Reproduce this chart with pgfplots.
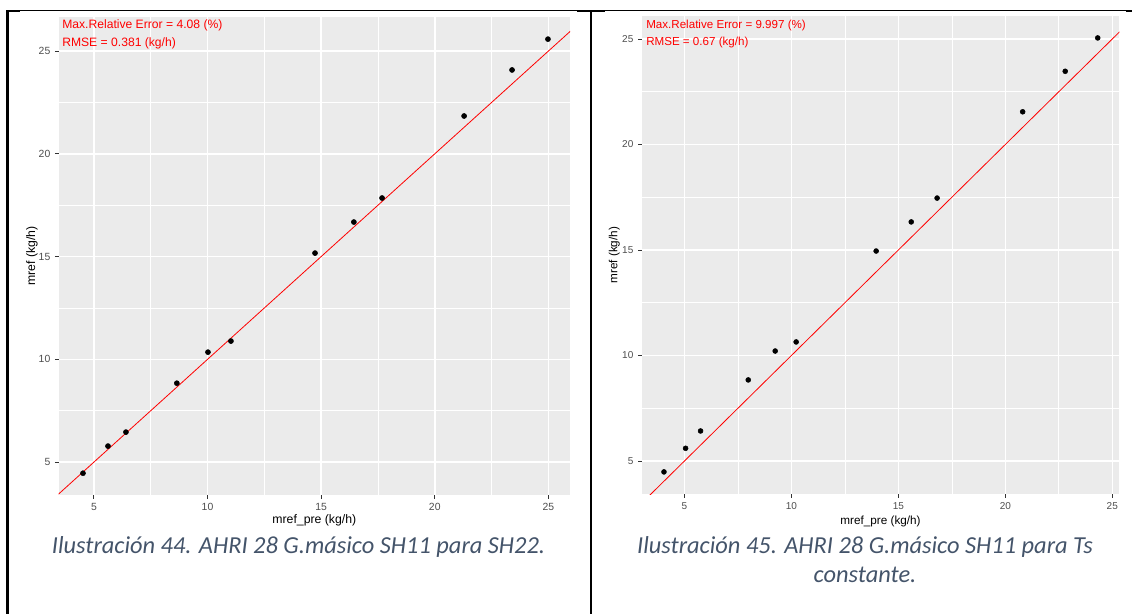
\documentclass[border=0pt]{standalone}
\usepackage{pgfplots}
\pgfplotsset{compat=1.18}
\usepackage{fontspec}
\setmainfont{Liberation Sans}
\newfontfamily\capfont{Carlito}
\definecolor{PanelBg}{HTML}{EBEBEB}
\definecolor{TickGrey}{HTML}{4D4D4D}
\definecolor{TickMark}{HTML}{333333}
\definecolor{CapBlue}{HTML}{44546A}

\pgfplotstableread{
x y
4.52 4.46
5.62 5.78
6.41 6.46
8.65 8.84
10.02 10.35
11.03 10.89
14.73 15.17
16.44 16.68
17.68 17.85
21.29 21.84
23.40 24.08
24.98 25.58
}\sharedtwo

\pgfplotstableread{
x y
4.04 4.48
5.05 5.60
5.75 6.42
7.98 8.84
9.24 10.21
10.22 10.64
13.96 14.95
15.60 16.33
16.81 17.46
20.81 21.55
22.80 23.47
24.32 25.05
}\tsconst

\pgfplotsset{
  ggpanel/.style={
    scale only axis,
    axis background/.style={fill=PanelBg},
    axis line style={draw=none},
    grid=both,
    major grid style={white,line width=1.1pt},
    minor grid style={white,line width=0.55pt},
    minor tick num=1,
    tick align=outside,
    tick pos=left,
    major tick length=2.75pt,
    minor tick length=0pt,
    tick style={TickMark,line width=0.6pt},
    xtick={5,10,15,20,25}, ytick={5,10,15,20,25},
    ticklabel style={text=TickGrey},
    /pgf/number format/assume math mode=true,
    xlabel={mref\_pre (kg/h)}, ylabel={mref (kg/h)},
  }
}

\begin{document}
\begin{tikzpicture}[x=0.75pt,y=-0.75pt]
\useasboundingbox (0,0) rectangle (1132,614);

% left panel
\begin{axis}[ggpanel, at={(44.0pt,-371.25pt)}, anchor=south west,
  width=383.5pt, height=358.7pt,
  xmin=3.45, xmax=25.95, ymin=3.4, ymax=26.67,
  ticklabel style={font=\fontsize{7.8}{9}\selectfont},
  label style={font=\fontsize{9.2}{11}\selectfont},
  xlabel shift=-4pt, ylabel shift=-6pt]
  \addplot[red,line width=0.6pt,no marks] coordinates {(0,0) (30,30)};
  \addplot[only marks,mark=*,mark size=1.9pt,black] table[x=x,y=y] {\sharedtwo};
  \node[anchor=base west,inner sep=0pt,text=red,font=\fontsize{9.1}{11}\selectfont]
    at ([xshift=2.5pt,yshift=-9.2pt]rel axis cs:0,1) {Max.Relative Error = 4.08 (\%)};
  \node[anchor=base west,inner sep=0pt,text=red,font=\fontsize{9.1}{11}\selectfont]
    at ([xshift=2.5pt,yshift=-22.4pt]rel axis cs:0,1) {RMSE = 0.381 (kg/h)};
\end{axis}

% right panel
\begin{axis}[ggpanel, at={(481.3pt,-370.7pt)}, anchor=south west,
  width=358.2pt, height=358.7pt,
  xmin=3.0, xmax=25.33, ymin=3.42, ymax=26.09,
  ticklabel style={font=\fontsize{7.5}{9}\selectfont},
  label style={font=\fontsize{8.8}{11}\selectfont},
  xlabel shift=-2pt, ylabel shift=-5pt]
  \addplot[red,line width=0.6pt,no marks] coordinates {(0,0) (30,30)};
  \addplot[only marks,mark=*,mark size=1.85pt,black] table[x=x,y=y] {\tsconst};
  \node[anchor=base west,inner sep=0pt,text=red,font=\fontsize{8.7}{11}\selectfont]
    at ([xshift=3.2pt,yshift=-9.4pt]rel axis cs:0,1) {Max.Relative Error = 9.997 (\%)};
  \node[anchor=base west,inner sep=0pt,text=red,font=\fontsize{8.7}{11}\selectfont]
    at ([xshift=3.2pt,yshift=-22pt]rel axis cs:0,1) {RMSE = 0.67 (kg/h)};
\end{axis}

% table borders
\draw[line width=0.75pt] (7,10.5) -- (1132,10.5);
\draw[line width=1.5pt] (7,11) -- (20,11);
\draw[line width=1.5pt] (577,11) -- (605,11);
\draw[line width=1.5pt] (1126,11) -- (1132,11);
\draw[line width=2.25pt] (7.5,10) -- (7.5,614);
\draw[line width=1.5pt] (591.3,10) -- (591.3,614);

% captions
\node[anchor=base,inner sep=0pt,text=CapBlue,font=\capfont\itshape\fontsize{18.3}{29}\selectfont]
  at (298.5,553) {Ilustración 44. AHRI 28 G.másico SH11 para SH22.};
\node[anchor=base,inner sep=0pt,text=CapBlue,font=\capfont\itshape\fontsize{18.3}{29}\selectfont]
  at (865,553) {Ilustración 45. AHRI 28 G.másico SH11 para Ts};
\node[anchor=base,inner sep=0pt,text=CapBlue,font=\capfont\itshape\fontsize{18.3}{29}\selectfont]
  at (865,582) {constante.};
\end{tikzpicture}
\end{document}
